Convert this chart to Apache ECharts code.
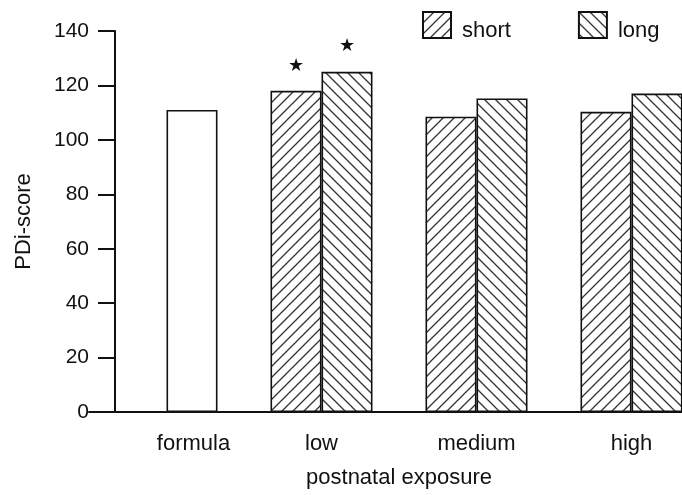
<!DOCTYPE html>
<html>
<head>
<meta charset="utf-8">
<style>
  html, body { margin: 0; padding: 0; background: #fff; }
  #chart { width: 682px; height: 495px; }
</style>
<script src="https://cdn.jsdelivr.net/npm/echarts@6/dist/echarts.min.js"></script>
</head>
<body>
<div id="chart"></div>
<script>
// PDI scores by postnatal exposure group and breastfeeding duration
const categories = ['formula', 'low', 'medium', 'high'];
const formulaScores = [111, null, null, null];
const shortScores = [null, 118, 108.5, 110.3];
const longScores = [null, 125, 115.2, 117];
const significant = [false, true, false, false];
const yTicks = { min: 0, max: 140, step: 20 };

// Diagonal hatch fill: dir = 1 for "/" lines, -1 for "\" lines
function hatch(dir) {
  const s = 11;
  const c = document.createElement('canvas');
  c.width = s; c.height = s;
  const g = c.getContext('2d');
  g.fillStyle = '#fff';
  g.fillRect(0, 0, s, s);
  g.strokeStyle = '#333';
  g.lineWidth = 1.3;
  g.beginPath();
  if (dir > 0) {
    g.moveTo(-2, s + 2); g.lineTo(s + 2, -2);
    g.moveTo(-2, 2); g.lineTo(2, -2);
    g.moveTo(s - 2, s + 2); g.lineTo(s + 2, s - 2);
  } else {
    g.moveTo(-2, -2); g.lineTo(s + 2, s + 2);
    g.moveTo(-2, s - 2); g.lineTo(2, s + 2);
    g.moveTo(s - 2, -2); g.lineTo(s + 2, 2);
  }
  g.stroke();
  return { image: c, repeat: 'repeat' };
}

const font = '"Liberation Sans", Arial, Helvetica, sans-serif';
const ink = '#111';

function withStars(values) {
  return values.map((v, i) => significant[i]
    ? { value: v, label: { show: true, position: 'top', distance: 16, formatter: '★',
        fontSize: 18, color: ink, fontFamily: 'DejaVu Sans' } }
    : v);
}

const barBorder = { borderColor: ink, borderWidth: 1.6 };

const chart = echarts.init(document.getElementById('chart'), null, { renderer: 'canvas' });
chart.setOption({
  animation: false,
  backgroundColor: '#fff',
  textStyle: { fontFamily: font, color: ink },
  grid: { left: 89, width: 620, top: 31, bottom: 83, containLabel: false, outerBoundsMode: 'none' },
  legend: {
    data: ['short', 'long'],
    icon: 'rect',
    left: 422, top: 11, padding: 0,
    itemWidth: 28, itemHeight: 26,
    itemGap: 67,
    formatter: name => '{t|' + name + '}',
    textStyle: {
      fontSize: 22, color: ink, fontFamily: font,
      rich: { t: { fontSize: 22, color: ink, fontFamily: font, padding: [12, 0, 0, 6] } }
    }
  },
  xAxis: {
    type: 'category',
    data: categories,
    name: 'postnatal exposure',
    nameLocation: 'middle',
    nameGap: 55,
    nameTextStyle: { fontSize: 22, color: ink, fontFamily: font },
    axisLine: { lineStyle: { color: ink, width: 2 } },
    axisTick: { show: false },
    axisLabel: {
      margin: 21,
      fontSize: 22, color: ink, fontFamily: font,
      formatter: v => v === 'formula' ? '{f|' + v + '}' : v,
      rich: { f: { fontSize: 22, color: ink, fontFamily: font, padding: [0, 0, 0, 54] } }
    }
  },
  yAxis: {
    type: 'value',
    min: yTicks.min, max: yTicks.max, interval: yTicks.step,
    offset: -26,
    name: 'PDi-score',
    nameLocation: 'middle',
    nameGap: 80,
    nameTextStyle: { fontSize: 22, color: ink, fontFamily: font },
    axisLine: { show: true, lineStyle: { color: ink, width: 2 } },
    axisTick: { show: true, length: 17, lineStyle: { color: ink, width: 2 } },
    axisLabel: { margin: 26, fontSize: 21, color: ink, fontFamily: font },
    splitLine: { show: false }
  },
  series: [
    {
      name: 'short', type: 'bar', barWidth: 51, barGap: '0%',
      data: withStars(shortScores),
      itemStyle: Object.assign({ color: hatch(1) }, barBorder)
    },
    {
      name: 'long', type: 'bar', barWidth: 51, barGap: '0%', stack: 'right',
      data: withStars(longScores),
      itemStyle: Object.assign({ color: hatch(-1) }, barBorder)
    },
    {
      name: 'formula', type: 'bar', barWidth: 51, barGap: '0%', stack: 'right',
      data: formulaScores,
      itemStyle: Object.assign({ color: '#fff' }, barBorder)
    }
  ]
});
</script>
</body>
</html>
